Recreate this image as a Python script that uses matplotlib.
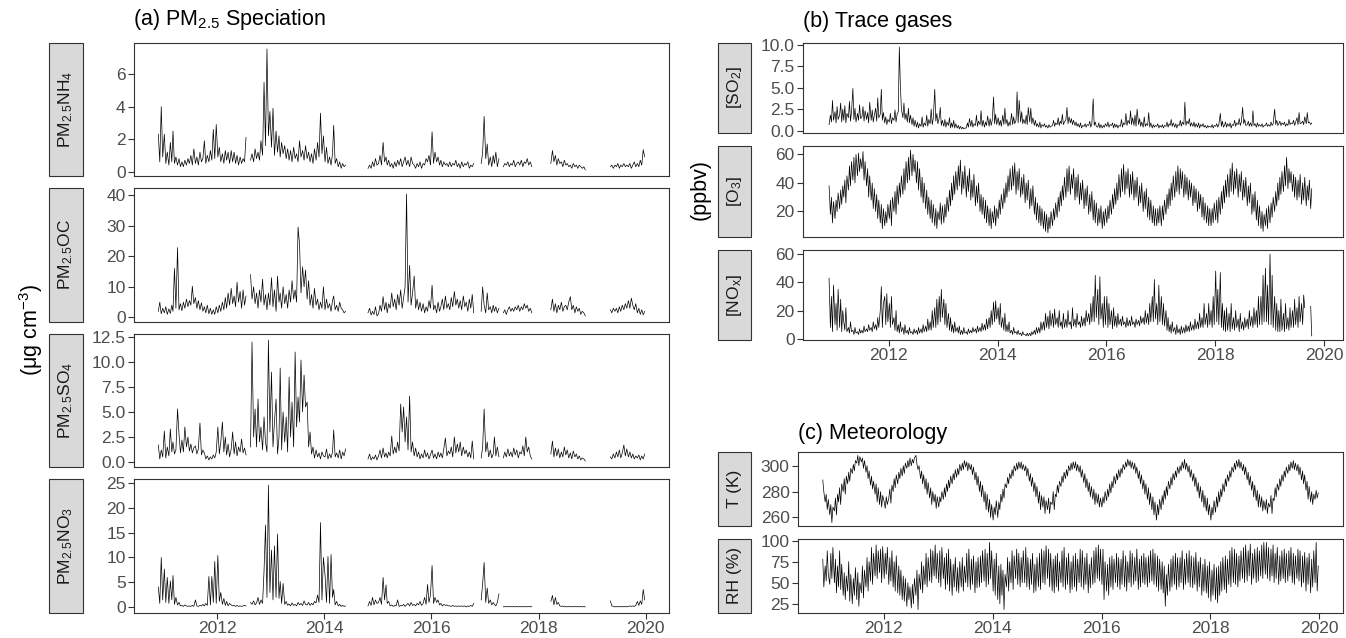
import datetime as dt

import matplotlib
matplotlib.use('Agg')
import matplotlib.dates as mdates
import matplotlib.pyplot as plt
import numpy as np
from matplotlib.patches import Rectangle

N = None

# (a) PM2.5 speciation, 3 samples per month (5th, 15th, 25th); one row per year from 2010
nh4 = [
    [N, N, 2.3, 0.6, 4.0, 0.9],
    [2.3, 0.5, 1.2, 0.4, 1.8, 0.6, 2.5, 0.5, 0.9, 0.4, 0.8, 0.3, 0.6, 0.3, 0.7, 0.4, 0.8, 0.5,
     1.0, 0.4, 1.4, 0.5, 0.9, 0.4, 1.2, 0.6, 0.8, 1.9, 0.5, 1.0, 0.6, 1.3, 0.7, 2.6, 0.8, 2.9],
    [0.9, 1.5, 0.6, 1.1, 0.5, 1.3, 0.7, 1.2, 0.5, 1.3, 0.6, 1.2, 0.5, 1.0, 0.4, 0.9, 0.5, 0.8,
     0.6, 2.1, N, N, 0.7, 1.1, 0.6, 1.4, 0.8, 1.2, 0.7, 1.9, 1.0, 5.5, 1.6, 7.55, 2.2, 3.7],
    [1.5, 3.9, 1.0, 2.5, 1.2, 2.2, 0.9, 1.8, 1.1, 1.6, 0.8, 1.4, 0.7, 1.3, 0.6, 1.5, 0.8, 1.1,
     0.6, 1.9, 0.9, 1.3, 0.7, 1.6, 0.8, 1.2, 0.6, 1.1, 0.5, 1.4, 0.7, 1.8, 0.9, 3.6, 1.1, 2.2],
    [0.6, 1.5, 0.5, 0.9, 0.4, 1.1, 2.85, 0.5, 0.8, 0.3, 0.6, 0.2, 0.5, 0.3, 0.4] + [N] * 14
    + [0.2, 0.4, 0.2, 0.6, 0.3, 0.8, 0.4],
    [0.5, 1.0, 0.4, 1.8, 0.6, 0.9, 0.4, 0.7, 0.3, 0.5, 0.2, 0.6, 0.3, 0.7, 0.4, 0.8, 0.3, 0.6,
     0.9, 0.4, 0.7, 0.3, 0.9, 0.5, 0.4, 0.2, 0.5, 0.3, 0.6, 0.2, 0.5, 0.4, 0.8, 0.6, 1.0, 0.4],
    [2.45, 0.5, 1.2, 0.6, 0.9, 0.4, 0.7, 0.3, 0.6, 0.4, 0.5, 0.3, 0.6, 0.3, 0.5, 0.4, 0.7, 0.3,
     0.5, 0.2, 0.6, 0.3, 0.5, 0.4, 0.6, 0.2, 0.4, 0.3, 0.5] + [N] * 4 + [0.5, 1.2, 3.4],
    [0.8, 1.7, 0.4, 0.9, 0.3, 1.0, 0.5, 1.2, 0.3, 0.8, N, N, 0.3, 0.5, 0.4, 0.6, 0.3, 0.5,
     0.4, 0.7, 0.3, 0.5, 0.6, 0.4, 0.7, 0.3, 0.6, 0.5, 0.8, 0.4, 0.6, 0.3] + [N] * 4,
    [N] * 8 + [0.5, 1.3, 0.6, 1.0, 0.4, 0.8, 0.5, 0.6, 0.3, 0.7, 0.4, 0.5, 0.3, 0.4, 0.2, 0.5,
               0.3, 0.4, 0.2, 0.4, 0.3, 0.2, 0.3, 0.1] + [N] * 4,
    [N] * 12 + [0.3, 0.4, 0.2, 0.4, 0.3, 0.5, 0.2, 0.4, 0.3, 0.5, 0.3, 0.4, 0.3, 0.5, 0.2, 0.4,
                0.6, 0.3, 0.5, 0.3, 0.7, 0.4, 1.35, 0.9],
]
oc = [
    [N, N, 2.0, 5.0, 1.2, 3.0],
    [1.5, 3.5, 1.0, 2.8, 1.3, 4.0, 2.0, 16.0, 3.0, 22.8, 2.5, 4.5, 2.2, 5.0, 3.0, 6.0, 3.5, 5.5,
     4.0, 10.2, 4.5, 6.5, 3.0, 5.5, 2.5, 4.8, 2.0, 3.5, 1.5, 4.0, 1.2, 3.0, 1.0, 2.5, 1.0, 3.5],
    [1.5, 4.0, 2.0, 5.0, 2.5, 6.5, 3.0, 8.0, 4.0, 9.5, 4.5, 7.0, 3.5, 11.5, 5.0, 8.5, 3.0, 9.0,
     4.0, 7.0, N, N, 14.0, 6.0, 10.0, 4.5, 8.0, 3.0, 9.0, 5.0, 12.5, 4.0, 7.5, 2.5, 8.0, 4.0],
    [13.0, 3.5, 9.0, 2.0, 13.5, 5.0, 8.0, 3.0, 10.0, 4.5, 7.5, 3.0, 9.0, 5.0, 12.0, 6.0, 9.0, 5.0,
     29.5, 24.0, 8.0, 16.5, 10.0, 15.5, 6.0, 12.0, 4.0, 7.5, 3.0, 9.5, 4.0, 6.0, 2.5, 5.0, 3.0, 10.0],
    [2.5, 6.0, 3.0, 4.5, 2.0, 5.5, 7.0, 2.5, 4.0, 2.0, 5.0, 3.0, 2.5, 1.5, 2.0] + [N] * 14
    + [1.5, 3.0, 0.8, 2.0, 1.0, 3.5, 0.5],
    [1.2, 4.0, 2.0, 6.8, 2.5, 5.0, 1.5, 4.5, 3.0, 8.0, 3.5, 6.0, 2.5, 7.5, 4.0, 9.0, 3.0, 6.5,
     10.0, 40.3, 5.0, 17.0, 4.0, 8.0, 13.5, 3.0, 6.0, 2.5, 5.0, 2.0, 4.5, 1.5, 3.5, 2.0, 5.5, 3.0],
    [10.5, 2.5, 4.0, 1.5, 5.0, 2.0, 3.5, 6.0, 2.5, 7.0, 3.0, 4.5, 2.5, 6.5, 3.5, 8.5, 4.0, 6.0,
     3.0, 5.5, 2.5, 7.0, 3.5, 5.0, 2.0, 6.0, 3.0, 7.5, 1.5] + [N] * 4 + [2.0, 10.0, 4.0],
    [1.5, 8.0, 2.5, 3.5, 1.5, 4.0, 2.0, 3.5, 1.5, 3.0, N, N, 1.5, 2.5, 1.0, 2.5, 3.5, 2.0,
     3.0, 2.0, 3.5, 2.5, 4.0, 2.0, 3.5, 2.5, 4.5, 3.0, 4.0, 2.0, 3.0, 1.5] + [N] * 4,
    [N] * 8 + [2.5, 6.0, 2.0, 4.5, 1.5, 4.0, 2.5, 5.0, 2.0, 3.5, 4.0, 2.5, 5.0, 6.8, 2.5, 4.0,
               1.5, 3.5, 2.0, 3.0, 1.0, 2.0, 1.5, 0.5] + [N] * 4,
    [N] * 12 + [2.5, 1.5, 3.0, 2.0, 3.0, 1.5, 3.5, 2.0, 4.0, 2.5, 4.5, 3.0, 5.5, 3.0, 6.3, 4.0,
                2.5, 4.5, 1.5, 3.0, 1.0, 2.5, 0.8, 2.0],
]
so4 = [
    [N, N, 1.7, 0.3, 1.2, 0.5],
    [3.1, 0.4, 1.5, 0.6, 3.3, 1.0, 2.0, 0.8, 1.2, 5.3, 2.8, 0.9, 2.2, 1.0, 3.5, 1.5, 2.5, 1.1,
     1.8, 0.9, 1.4, 1.6, 0.8, 1.3, 3.9, 0.7, 1.2, 0.9, 0.3, 0.6, 0.2, 0.5, 0.3, 0.7, 0.4, 1.0],
    [3.5, 0.8, 2.0, 4.0, 1.0, 2.5, 0.7, 1.8, 0.5, 1.3, 3.0, 0.8, 2.0, 0.6, 1.5, 1.0, 2.3, 0.9,
     1.4, 0.7, N, N, 1.5, 12.0, 2.5, 5.3, 1.5, 6.3, 2.0, 3.5, 1.2, 4.5, 2.0, 1.0, 12.2, 3.0],
    [9.0, 1.5, 4.0, 6.3, 0.8, 2.5, 9.4, 1.2, 5.0, 2.0, 4.5, 1.0, 8.5, 2.5, 6.0, 1.5, 11.0, 3.5,
     6.5, 4.0, 10.2, 5.0, 8.7, 5.5, 6.0, 1.5, 3.0, 0.8, 1.5, 0.4, 1.2, 0.5, 0.9, 0.3, 1.0, 0.6],
    [0.5, 1.3, 0.3, 0.8, 0.4, 1.0, 3.2, 0.5, 0.9, 0.4, 1.2, 0.3, 1.0, 0.6, 1.3] + [N] * 14
    + [0.3, 0.8, 0.2, 0.5, 0.3, 0.7, 0.2],
    [0.6, 1.2, 0.4, 1.4, 0.5, 0.9, 0.4, 1.0, 0.6, 2.6, 0.8, 1.5, 0.9, 2.0, 1.1, 5.8, 3.0, 5.5,
     2.0, 4.5, 1.2, 6.6, 1.0, 2.0, 0.6, 1.4, 0.5, 1.0, 0.3, 0.8, 0.4, 1.2, 0.5, 0.9, 0.3, 0.7],
    [1.2, 0.4, 0.8, 0.3, 1.0, 0.5, 0.9, 0.4, 1.3, 2.4, 0.6, 1.1, 0.8, 1.5, 0.5, 2.5, 0.9, 1.8,
     1.0, 2.0, 0.6, 1.5, 0.8, 1.2, 0.5, 1.0, 0.4, 2.1, 0.3] + [N] * 4 + [0.4, 1.5, 5.3],
    [1.0, 2.0, 0.5, 1.2, 0.4, 0.8, 2.5, 0.6, 1.5, 0.5, N, N, 0.4, 1.0, 0.5, 1.3, 0.6, 1.0,
     0.5, 1.4, 0.7, 1.2, 0.4, 1.0, 0.8, 1.6, 0.6, 2.5, 1.0, 1.5, 0.6, 0.3] + [N] * 4,
    [N] * 8 + [0.8, 2.1, 0.5, 1.4, 0.6, 1.3, 0.4, 1.0, 0.5, 1.5, 0.7, 1.2, 0.4, 0.9, 0.3, 1.1,
               0.5, 0.8, 0.3, 0.6, 0.2, 0.4, 0.3, 0.1] + [N] * 4,
    [N] * 12 + [0.5, 0.3, 0.8, 0.4, 1.0, 0.5, 1.2, 0.4, 0.9, 1.7, 0.6, 1.3, 0.5, 1.0, 0.4, 0.8,
                0.3, 0.6, 0.4, 0.7, 0.2, 0.6, 0.3, 0.8],
]
no3 = [
    [N, N, 4.1, 0.8, 10.0, 1.5],
    [7.7, 1.0, 6.0, 0.8, 5.3, 1.5, 6.4, 0.6, 2.0, 0.5, 1.0, 0.3, 0.4, 0.2, 0.5, 0.3, 0.2, 0.3,
     0.2, 0.4, 0.2, 1.5, 0.3, 0.2, 0.4, 0.3, 0.6, 0.3, 0.8, 0.4, 6.2, 0.5, 6.2, 1.0, 9.2, 0.8],
    [10.4, 1.2, 3.0, 0.6, 1.8, 0.4, 1.2, 0.3, 0.8, 0.5, 0.3, 0.4, 0.2, 0.4, 0.2, 0.3, 0.2, 0.3,
     0.4, 0.3, N, N, 1.0, 0.6, 1.3, 0.5, 0.9, 2.0, 0.6, 1.5, 0.8, 7.3, 16.5, 2.0, 24.5, 3.0],
    [11.5, 1.5, 12.3, 2.0, 14.7, 1.8, 5.2, 0.8, 4.8, 0.6, 1.2, 0.4, 0.7, 0.3, 0.9, 0.4, 0.6, 0.3,
     1.0, 0.5, 0.8, 0.4, 1.3, 0.6, 0.5, 1.0, 0.4, 0.8, 0.5, 1.2, 0.9, 2.5, 1.0, 17.0, 1.5, 10.0],
    [6.5, 1.0, 10.2, 0.8, 10.6, 2.0, 3.6, 0.5, 1.2, 0.3, 0.6, 0.2, 0.4, 0.2, 0.3] + [N] * 14
    + [0.3, 1.2, 0.4, 2.0, 0.5, 1.5, 0.8],
    [1.0, 2.0, 0.6, 6.0, 1.5, 4.5, 0.8, 1.2, 0.3, 0.5, 0.2, 0.4, 0.3, 1.5, 0.2, 0.4, 0.3, 0.6,
     0.2, 0.5, 0.8, 0.3, 1.0, 0.4, 0.6, 0.3, 0.8, 0.5, 1.2, 0.4, 0.8, 2.0, 0.6, 4.6, 1.0, 2.5],
    [8.4, 0.8, 2.0, 1.0, 1.5, 0.5, 0.8, 0.3, 0.6, 0.4, 0.5, 0.3, 0.3, 0.2, 0.4, 0.2, 0.3, 0.2,
     0.3, 0.2, 0.3, 0.2, 0.3, 0.1, 0.3, 0.2, 0.4, 0.2, 0.8] + [N] * 4 + [1.5, 4.8, 9.0],
    [1.0, 3.9, 0.8, 1.5, 0.5, 1.0, 0.6, 0.3, 1.0, 2.7, N, N, 0.1, 0.2, 0.1, 0.2, 0.1, 0.2,
     0.1, 0.2, 0.1, 0.2, 0.1, 0.2, 0.1, 0.2, 0.1, 0.2, 0.1, 0.2, 0.1, 0.2] + [N] * 4,
    [N] * 8 + [1.2, 2.4, 0.5, 2.0, 0.6, 1.0, 0.3, 0.2, 0.3, 0.1, 0.2, 0.1, 0.2, 0.1, 0.2, 0.1,
               0.2, 0.1, 0.2, 0.1, 0.2, 0.1, 0.2, 0.1] + [N] * 4,
    [N] * 12 + [1.3, 0.3, 0.2, 0.1, 0.2, 0.1, 0.2, 0.1, 0.2, 0.1, 0.2, 0.1, 0.2, 0.3, 0.2, 0.3,
                0.2, 0.4, 1.2, 0.4, 1.3, 0.6, 3.6, 1.5],
]

# (b) trace gases and (c) meteorology, 4 values per month (4th, 11th, 18th, 25th)
so2 = [
    [N, N, N, 0.7, 1.8, 1.0, 3.5, 1.2],
    [2.2, 0.9, 2.8, 1.3, 1.8, 3.2, 1.0, 2.5, 1.2, 2.9, 0.9, 2.0, 1.5, 3.4, 1.1, 2.2,
     4.9, 1.3, 2.6, 1.0, 2.0, 1.2, 3.0, 1.4, 1.6, 2.8, 1.1, 2.3, 1.3, 2.1, 0.9, 3.3,
     1.2, 2.4, 1.0, 1.8, 2.6, 1.1, 3.8, 1.5, 1.9, 4.8, 1.2, 2.1, 0.9, 1.6, 0.7, 1.3],
    [1.0, 2.0, 0.8, 1.5, 1.2, 2.4, 1.0, 1.9, 2.2, 9.7, 5.2, 2.5, 1.5, 3.2, 1.3, 2.0,
     1.0, 2.6, 0.9, 1.8, 0.7, 1.5, 0.5, 1.2, 0.4, 1.0, 0.3, 0.8, 0.5, 1.6, 0.4, 0.9,
     0.6, 1.8, 0.5, 1.3, 0.8, 2.5, 0.7, 1.4, 4.8, 1.1, 2.0, 0.8, 1.5, 2.7, 0.6, 1.2],
    [0.5, 1.3, 0.4, 1.0, 0.6, 1.5, 0.3, 0.9, 0.4, 1.2, 0.3, 0.8, 0.3, 0.6, 0.2, 0.5,
     0.2, 0.4, 0.2, 0.3, 0.3, 0.9, 0.4, 1.4, 0.5, 1.2, 0.4, 0.8, 0.6, 1.8, 0.5, 1.1,
     0.7, 2.3, 0.5, 1.2, 0.4, 1.0, 0.6, 1.7, 0.5, 1.4, 0.6, 1.2, 3.9, 0.8, 1.9, 0.7],
    [1.5, 0.6, 1.2, 0.5, 1.8, 0.7, 2.6, 0.8, 1.3, 0.5, 1.0, 0.6, 2.0, 0.7, 1.6, 0.8,
     1.2, 4.5, 0.9, 3.5, 1.0, 2.2, 0.8, 1.3, 0.8, 1.8, 0.7, 2.7, 1.0, 2.6, 0.8, 1.5,
     0.6, 1.2, 0.5, 0.8, 0.4, 1.0, 0.3, 0.7, 0.5, 0.8, 0.4, 0.6, 0.3, 0.7, 0.4, 0.5],
    [0.6, 1.2, 0.5, 0.9, 0.7, 1.5, 0.6, 1.1, 0.8, 1.9, 0.7, 1.0, 1.3, 2.7, 0.8, 1.6,
     0.9, 1.4, 0.7, 1.2, 0.6, 1.0, 0.5, 0.8, 0.4, 0.9, 0.3, 0.6, 0.5, 0.8, 0.4, 0.7,
     0.6, 1.1, 0.4, 0.8, 3.7, 0.6, 1.0, 0.5, 0.4, 0.9, 0.3, 0.7, 0.3, 0.6, 0.4, 0.8],
    [0.5, 1.0, 0.4, 0.7, 0.6, 0.9, 0.3, 0.8, 0.4, 0.7, 0.3, 0.6, 0.5, 1.3, 0.4, 0.9,
     0.7, 2.0, 0.6, 1.2, 0.8, 2.3, 0.7, 1.5, 0.6, 1.8, 0.5, 2.5, 0.7, 1.4, 0.5, 1.0,
     0.4, 1.6, 0.5, 0.8, 0.6, 2.1, 0.4, 0.9, 0.3, 0.7, 0.4, 0.6, 0.5, 0.8, 0.3, 0.6],
    [0.4, 0.7, 0.3, 0.6, 0.5, 1.0, 0.4, 0.8, 0.6, 1.3, 0.5, 0.9, 0.4, 0.8, 0.3, 0.7,
     0.6, 1.2, 0.5, 1.0, 0.7, 3.3, 0.6, 1.1, 0.8, 1.4, 0.5, 0.9, 0.5, 1.0, 0.4, 0.8,
     0.4, 0.9, 0.3, 0.7, 0.5, 0.8, 0.4, 0.6, 0.3, 0.6, 0.4, 0.5, 0.4, 0.7, 0.3, 0.6],
    [0.5, 0.8, 0.4, 0.7, 2.0, 0.5, 1.1, 0.4, 0.6, 1.0, 0.4, 0.8, 0.5, 0.9, 0.3, 0.7,
     0.6, 1.2, 0.5, 0.9, 0.7, 1.4, 0.6, 1.0, 2.7, 0.8, 1.3, 0.6, 0.7, 1.1, 0.5, 0.9,
     0.5, 2.3, 0.6, 0.8, 0.4, 0.9, 0.5, 0.7, 0.5, 0.8, 0.4, 0.6, 0.6, 0.9, 0.5, 0.7],
    [0.5, 1.0, 0.6, 0.8, 2.5, 0.7, 1.2, 0.6, 0.8, 1.1, 0.6, 0.9, 0.7, 1.0, 0.5, 0.8,
     0.6, 1.3, 0.7, 0.9, 0.8, 1.2, 0.6, 1.0, 1.5, 0.7, 2.1, 0.8, 0.9, 1.1, 0.7, 1.6,
     0.8, 2.1, 0.9, 1.0, 0.7, 0.9],
]
o3 = [
    [N, N, N, 38, 18, 30, 12, 27],
    [15, 28, 20, 33, 22, 35, 25, 38, 30, 42, 26, 45, 35, 52, 38, 55, 42, 58, 40, 60, 45, 61, 48, 57,
     50, 62, 42, 55, 38, 50, 30, 45, 28, 40, 22, 36, 20, 32, 15, 28, 12, 25, 8, 22, 10, 20, 12, 25],
    [15, 28, 10, 30, 20, 34, 18, 38, 25, 40, 30, 45, 32, 50, 35, 55, 40, 58, 42, 63, 45, 60, 48, 56,
     40, 55, 35, 50, 30, 44, 26, 40, 22, 35, 18, 30, 15, 28, 12, 25, 10, 22, 8, 20, 14, 26, 11, 24],
    [12, 25, 16, 30, 20, 35, 24, 40, 28, 45, 32, 48, 35, 52, 38, 56, 32, 48, 36, 52, 30, 45, 34, 50,
     28, 42, 30, 46, 24, 38, 26, 40, 20, 32, 18, 30, 15, 28, 12, 24, 10, 22, 8, 20, 12, 24, 10, 22],
    [15, 28, 18, 32, 22, 36, 26, 40, 30, 45, 34, 50, 35, 52, 38, 54, 32, 48, 35, 50, 30, 44, 32, 46,
     26, 40, 28, 42, 22, 36, 24, 38, 18, 30, 14, 26, 12, 24, 10, 22, 8, 20, 6, 18, 5, 16, 8, 20],
    [10, 22, 14, 26, 16, 30, 20, 34, 24, 38, 28, 44, 30, 50, 34, 52, 32, 46, 36, 50, 28, 44, 30, 46,
     25, 40, 28, 42, 22, 36, 24, 38, 18, 32, 20, 34, 14, 28, 12, 26, 10, 22, 12, 24, 8, 20, 10, 22],
    [12, 24, 15, 28, 18, 32, 22, 36, 25, 40, 28, 46, 30, 50, 34, 53, 32, 48, 36, 50, 30, 46, 32, 48,
     28, 42, 30, 44, 24, 38, 26, 40, 20, 34, 22, 36, 16, 30, 14, 28, 12, 24, 10, 22, 10, 22, 12, 24],
    [10, 24, 14, 28, 18, 32, 22, 36, 24, 40, 28, 45, 30, 48, 34, 52, 32, 50, 36, 48, 30, 46, 32, 44,
     28, 42, 30, 40, 24, 38, 26, 36, 20, 34, 22, 32, 16, 30, 14, 26, 12, 24, 10, 22, 10, 22, 12, 26],
    [14, 28, 12, 30, 18, 34, 22, 38, 26, 42, 30, 46, 30, 50, 34, 54, 32, 48, 36, 50, 30, 46, 34, 48,
     28, 42, 30, 44, 24, 38, 26, 40, 18, 32, 20, 34, 14, 28, 10, 24, 8, 20, 6, 18, 10, 22, 8, 24],
    [12, 26, 16, 30, 20, 34, 24, 40, 28, 44, 32, 48, 34, 52, 38, 58, 36, 50, 40, 48, 34, 46, 30, 44,
     28, 42, 30, 46, 25, 40, 28, 44, 24, 38, 28, 42, 22, 36],
]
nox = [
    [N, N, N, 43, 8, 30, 5, 38],
    [10, 25, 6, 35, 8, 28, 5, 20, 12, 6, 22, 5, 8, 4, 12, 5, 6, 3, 8, 4, 5, 3, 7, 4,
     6, 4, 9, 5, 7, 5, 10, 6, 8, 5, 12, 7, 10, 6, 15, 8, 20, 37, 8, 25, 30, 10, 32, 12],
    [25, 8, 30, 10, 15, 6, 20, 5, 10, 4, 12, 5, 8, 3, 10, 4, 6, 3, 8, 4, 5, 3, 7, 4,
     6, 3, 8, 4, 7, 4, 10, 5, 9, 5, 14, 6, 12, 6, 20, 8, 22, 8, 28, 10, 30, 12, 35, 15],
    [28, 10, 25, 8, 18, 6, 15, 5, 10, 4, 12, 5, 8, 4, 9, 3, 6, 3, 8, 4, 5, 3, 7, 4,
     6, 4, 8, 5, 7, 4, 9, 5, 8, 5, 11, 6, 10, 6, 14, 7, 15, 8, 20, 10, 26, 12, 27, 14],
    [22, 10, 25, 8, 15, 6, 18, 5, 10, 5, 12, 4, 6, 3, 8, 4, 5, 3, 6, 3, 4, 2, 5, 3,
     3, 2, 4, 2, 4, 2, 5, 3, 6, 3, 8, 4, 8, 4, 12, 6, 12, 6, 18, 8, 16, 7, 20, 9],
    [18, 8, 21, 10, 15, 8, 20, 9, 12, 7, 18, 8, 14, 8, 20, 10, 12, 7, 22, 9, 14, 8, 18, 10,
     12, 8, 16, 9, 15, 9, 20, 12, 18, 10, 25, 12, 30, 12, 45, 15, 35, 10, 44, 14, 25, 8, 30, 10],
    [30, 8, 25, 10, 20, 7, 22, 9, 16, 8, 18, 10, 14, 9, 16, 10, 12, 8, 15, 9, 13, 9, 16, 10,
     12, 8, 14, 10, 13, 9, 16, 11, 15, 10, 20, 11, 18, 10, 25, 12, 30, 12, 42, 14, 25, 10, 38, 12],
    [30, 10, 25, 9, 20, 6, 15, 5, 10, 4, 12, 5, 8, 3, 10, 4, 7, 3, 9, 4, 8, 4, 10, 5,
     9, 5, 12, 6, 10, 6, 14, 7, 12, 7, 18, 8, 15, 8, 25, 10, 18, 8, 25, 10, 20, 8, 30, 10],
    [48, 12, 35, 10, 47, 8, 25, 6, 20, 5, 22, 6, 18, 5, 25, 7, 15, 6, 20, 8, 14, 5, 18, 7,
     12, 6, 15, 8, 14, 7, 20, 9, 16, 8, 22, 10, 20, 8, 30, 10, 30, 10, 45, 12, 50, 12, 38, 10],
    [60, 10, 45, 8, 30, 6, 25, 5, 20, 5, 28, 6, 18, 5, 25, 7, 15, 6, 22, 8, 20, 8, 28, 10,
     22, 8, 30, 12, 25, 10, 31, 22, N, N, 2, N, 23, 2],
]
temp_k = [
    [N, N, 289, 280, 272, 278, 266, 274],
    [262, 270, 256, 268, 265, 275, 262, 278, 272, 283, 270, 286, 280, 290, 278, 292,
     286, 295, 288, 298, 294, 301, 296, 304, 302, 308, 300, 307, 303, 306, 298, 304,
     295, 300, 290, 296, 285, 292, 282, 288, 278, 286, 272, 283, 270, 280, 268, 277],
    [272, 267, 276, 270, 275, 282, 271, 285, 280, 290, 283, 293, 286, 295, 290, 298,
     292, 300, 294, 302, 298, 304, 299, 306, 300, 305, 302, 306, 308, 301, 297, 300,
     290, 296, 286, 293, 282, 290, 278, 287, 275, 283, 270, 280, 272, 278, 267, 276],
    [268, 276, 272, 280, 274, 283, 276, 286, 280, 289, 283, 292, 286, 294, 289, 297,
     291, 298, 293, 301, 296, 302, 297, 304, 299, 303, 296, 302, 297, 301, 293, 299,
     289, 295, 285, 292, 280, 288, 276, 285, 272, 280, 266, 278, 264, 274, 260, 270],
    [258, 268, 262, 273, 260, 272, 266, 278, 272, 282, 275, 286, 283, 291, 286, 294,
     290, 297, 292, 300, 296, 302, 297, 303, 298, 303, 297, 301, 296, 300, 292, 298,
     288, 294, 284, 291, 280, 287, 276, 284, 271, 280, 266, 277, 268, 276, 263, 273],
    [266, 275, 263, 272, 270, 280, 266, 278, 276, 285, 279, 288, 284, 292, 287, 295,
     290, 297, 292, 300, 296, 302, 297, 303, 298, 303, 296, 301, 295, 300, 291, 297,
     287, 294, 283, 290, 280, 287, 276, 284, 274, 282, 270, 279, 271, 278, 268, 275],
    [268, 276, 271, 280, 273, 282, 276, 286, 279, 288, 283, 292, 286, 294, 289, 297,
     291, 298, 294, 301, 297, 303, 299, 305, 300, 304, 298, 303, 297, 302, 294, 299,
     290, 296, 286, 293, 282, 289, 278, 286, 274, 283, 270, 279, 266, 276, 262, 272],
    [258, 270, 262, 274, 266, 277, 270, 281, 274, 284, 277, 288, 282, 291, 285, 294,
     289, 296, 291, 299, 294, 300, 296, 303, 298, 305, 297, 302, 295, 300, 291, 297,
     288, 294, 284, 291, 280, 287, 275, 284, 272, 281, 268, 277, 265, 275, 262, 270],
    [258, 268, 262, 273, 264, 276, 268, 280, 272, 282, 276, 286, 280, 290, 284, 293,
     288, 296, 291, 299, 295, 302, 297, 304, 299, 305, 298, 303, 296, 301, 293, 299,
     289, 295, 285, 292, 281, 288, 276, 285, 273, 281, 268, 278, 268, 276, 265, 273],
    [266, 274, 263, 271, 268, 277, 263, 275, 273, 283, 276, 286, 281, 290, 284, 293,
     288, 296, 291, 299, 294, 301, 296, 303, 298, 304, 297, 302, 296, 301, 293, 299,
     289, 296, 286, 293, 281, 288, 274, 284, 272, 280, 270, 278, 274, 281, 275, 279],
]
rh = [
    [N, N, 78, 45, 70, 52, 88, 60],
    [48, 85, 55, 92, 50, 78, 38, 70, 45, 88, 42, 72, 35, 62, 30, 58, 40, 75, 28, 60, 25, 55, 35, 68,
     30, 62, 22, 50, 38, 70, 32, 65, 45, 80, 40, 75, 52, 92, 48, 85, 58, 95, 55, 88, 62, 90, 50, 93],
    [55, 85, 60, 92, 48, 80, 52, 88, 45, 75, 40, 82, 38, 70, 35, 65, 30, 58, 28, 55, 22, 50, 30, 45,
     20, 48, 25, 55, 35, 65, 18, 60, 42, 75, 38, 70, 48, 85, 45, 80, 52, 90, 50, 88, 58, 95, 55, 85],
    [50, 88, 45, 92, 55, 80, 42, 85, 48, 90, 40, 78, 35, 72, 45, 80, 40, 68, 38, 75, 45, 80, 40, 70,
     50, 85, 45, 90, 42, 78, 48, 82, 38, 75, 44, 80, 45, 82, 50, 88, 52, 90, 45, 85, 48, 98, 55, 88],
    [40, 78, 35, 85, 30, 70, 25, 72, 35, 65, 18, 60, 45, 80, 40, 75, 50, 88, 42, 82, 55, 90, 48, 85,
     45, 80, 50, 88, 50, 92, 45, 80, 42, 78, 48, 85, 38, 72, 40, 80, 45, 85, 42, 90, 50, 88, 48, 94],
    [55, 90, 45, 85, 40, 78, 38, 82, 45, 85, 40, 75, 50, 88, 45, 92, 42, 80, 48, 85, 38, 75, 42, 82,
     45, 85, 40, 78, 50, 90, 45, 88, 42, 80, 48, 85, 38, 72, 44, 80, 48, 88, 50, 92, 55, 95, 52, 90],
    [48, 90, 30, 75, 40, 72, 35, 80, 45, 82, 42, 78, 50, 85, 45, 80, 42, 78, 48, 88, 45, 82, 40, 75,
     50, 88, 45, 85, 48, 80, 52, 90, 42, 78, 45, 82, 50, 85, 48, 80, 45, 82, 50, 88, 52, 90, 48, 85],
    [45, 82, 40, 78, 42, 75, 38, 70, 22, 60, 35, 72, 40, 78, 45, 82, 48, 85, 42, 80, 45, 80, 50, 88,
     42, 78, 48, 85, 50, 88, 45, 82, 44, 80, 48, 86, 40, 75, 45, 80, 35, 72, 40, 78, 38, 70, 32, 75],
    [28, 65, 35, 72, 30, 68, 26, 70, 35, 75, 40, 80, 42, 82, 38, 78, 48, 88, 45, 92, 50, 90, 48, 85,
     45, 82, 52, 88, 55, 92, 50, 95, 52, 88, 58, 96, 48, 85, 55, 90, 50, 92, 52, 88, 58, 95, 55, 98],
    [60, 98, 55, 92, 52, 90, 58, 95, 50, 85, 55, 92, 48, 82, 52, 88, 55, 90, 50, 85, 52, 88, 58, 92,
     50, 85, 48, 82, 55, 90, 52, 88, 45, 82, 50, 86, 40, 80, 48, 85, 38, 78, 45, 88, 50, 98, 40, 70],
]

# strip labels and y tick values for each facet
labels_a = [r'PM$_{2.5}$NH$_4$', r'PM$_{2.5}$OC', r'PM$_{2.5}$SO$_4$', r'PM$_{2.5}$NO$_3$']
labels_b = [r'[SO$_2$]', r'[O$_3$]', r'[NO$_\mathregular{x}$]']
labels_c = ['T (K)', 'RH (%)']
yticks_a = [[0, 2, 4, 6], [0, 10, 20, 30, 40], [0, 2.5, 5, 7.5, 10, 12.5], [0, 5, 10, 15, 20, 25]]
yticks_b = [[0, 2.5, 5, 7.5, 10], [20, 40, 60], [0, 20, 40, 60]]
yticks_c = [[260, 280, 300], [25, 50, 75, 100]]


def to_series(rows, per_month):
    days = (5, 15, 25) if per_month == 3 else (4, 11, 18, 25)
    dates, vals = [], []
    for i, row in enumerate(rows):
        slots = [dt.date(2010 + i, m, d) for m in range(1, 13) for d in days]
        # the 2010 row holds the last months of that year, the rest start in January
        slots = slots[-len(row):] if i == 0 else slots[:len(row)]
        dates += slots
        vals += row
    return mdates.date2num(dates), np.array(vals, dtype=float)


def padded(lo, hi):
    pad = 0.05 * (hi - lo)
    return lo - pad, hi + pad


plt.rcParams['font.family'] = ['Liberation Sans', 'DejaVu Sans']
plt.rcParams['mathtext.fontset'] = 'custom'
plt.rcParams['mathtext.rm'] = 'Liberation Sans'
plt.rcParams['mathtext.it'] = 'Liberation Sans:italic'
plt.rcParams['mathtext.default'] = 'regular'

W, H = 1346, 638
fig = plt.figure(figsize=(W / 100, H / 100), dpi=100)
EDGE = '#333333'


def facet(box, strip, label, x, y, yticks, fmt, xlim, bottom):
    l, t, r, b = box
    ax = fig.add_axes([l / W, 1 - b / H, (r - l) / W, (b - t) / H])
    ax.plot(x, y, color='black', lw=0.5)
    ax.set_xlim(xlim)
    ax.set_ylim(padded(np.nanmin(y), np.nanmax(y)))
    ax.set_yticks(yticks)
    ax.set_yticklabels([fmt.format(v) for v in yticks])
    ax.xaxis.set_major_locator(mdates.YearLocator(2))
    ax.xaxis.set_major_formatter(mdates.DateFormatter('%Y'))
    ax.tick_params(length=4, width=0.8, color=EDGE, labelsize=12.5,
                   labelcolor='#4D4D4D', pad=2)
    if not bottom:
        ax.tick_params(axis='x', bottom=False, labelbottom=False)
    for s in ax.spines.values():
        s.set_color(EDGE)
        s.set_linewidth(0.8)
    # facet strip placed outside the axis on the left
    s0, s1 = strip
    fig.add_artist(Rectangle((s0 / W, 1 - b / H), (s1 - s0) / W, (b - t) / H,
                             transform=fig.transFigure, fc='#D9D9D9', ec=EDGE, lw=0.8))
    fig.text((s0 + s1) / 2 / W, 1 - (t + b) / 2 / H, label, rotation=90,
             ha='center', va='center', fontsize=12.5, color='#1A1A1A')
    return ax


def group(rows_list, per_month, labels, yticks, fmts, left, right, strip, rows_px, xlim=None):
    series = [to_series(rows, per_month) for rows in rows_list]
    if xlim is None:
        xs = np.concatenate([x[~np.isnan(y)] for x, y in series])
        xlim = padded(xs.min(), xs.max())
    for i, (x, y) in enumerate(series):
        t, b = rows_px[i]
        facet((left, t, right, b), strip, labels[i], x, y, yticks[i], fmts[i], xlim,
              i == len(series) - 1)


gas_xlim = mdates.date2num([dt.date(2010, 6, 3), dt.date(2020, 5, 8)])

group([nh4, oc, so4, no3], 3, labels_a, yticks_a, ['{:g}', '{:g}', '{:.1f}', '{:g}'],
      134, 669, (49, 83), [(43, 176), (188, 322), (334, 467), (479, 613)])
group([so2, o3, nox], 4, labels_b, yticks_b, ['{:.1f}', '{:g}', '{:g}'],
      803, 1343, (718, 751), [(43, 133), (146, 237), (250, 340)], xlim=gas_xlim)
group([temp_k, rh], 4, labels_c, yticks_c, ['{:g}', '{:g}'],
      798, 1343, (718, 751), [(452, 526), (539, 613)])

fig.text(133 / W, 1 - 20 / H, r'(a) PM$_{2.5}$ Speciation', fontsize=15.5, va='center')
fig.text(803 / W, 1 - 22 / H, '(b) Trace gases', fontsize=15.5, va='center')
fig.text(798 / W, 1 - 433 / H, '(c) Meteorology', fontsize=15.5, va='center')
fig.text(31 / W, 1 - 330 / H, r'(μg cm$^{-3}$)', rotation=90, fontsize=15.5,
         ha='center', va='center')
fig.text(700 / W, 1 - 190 / H, '(ppbv)', rotation=90, fontsize=15.5, ha='center', va='center')

fig.savefig('out.png', dpi=100, facecolor='white')
